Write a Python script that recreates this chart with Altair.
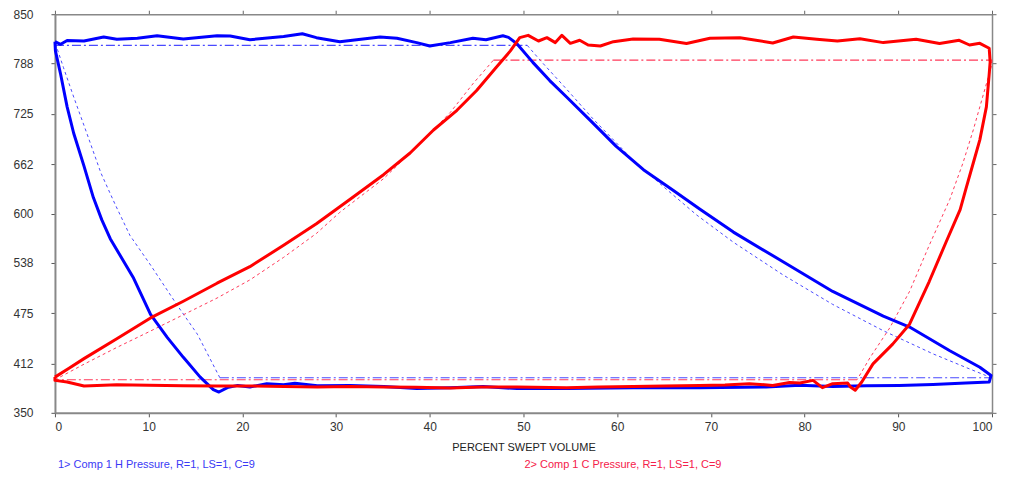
import altair as alt
import pandas as pd

# ---------------- data ----------------
X_TICKS = [0, 10, 20, 30, 40, 50, 60, 70, 80, 90, 100]
Y_TICKS = [350, 412, 475, 538, 600, 662, 725, 788, 850]

# Comp 1 H pressure, measured loop (blue, solid)
H_MEAS_X = [0, 0.6, 1.3, 3.1, 5.2, 6.6, 8.8, 10.9, 13.7, 17.3, 18.7, 20.8, 24.4, 26.4, 27.9,
            30.4, 32.2, 34.7, 36.5, 38.6, 40.0, 42.2, 44.6, 46.0, 47.8, 48.4, 49.3, 51.0, 52.8,
            54.6, 57.1, 59.9, 62.8, 66.0, 68.8, 72.4, 77.7, 83.0, 88.4, 91.2, 95.5, 98.7, 99.9,
            99.7, 97.2, 93.7, 90.1, 86.6, 83.0, 79.5, 75.9, 68.8, 61.7, 54.6, 49.3, 45.7, 42.2,
            38.6, 35.1, 31.5, 28.0, 25.6, 24.4, 22.6, 20.8, 19.5, 18.4, 17.5, 16.9, 15.5, 13.7,
            12.0, 10.2, 8.4, 5.9, 5.0, 4.1, 3.1, 2.0, 1.3, 0.6, 0.05, 0]
H_MEAS_Y = [815.6, 812.3, 817.0, 816.4, 821.4, 818.5, 819.8, 823.0, 818.9, 823.0, 822.6, 818.0,
            822.0, 825.5, 820.6, 815.6, 818.0, 821.4, 819.8, 814.4, 810.2, 814.4, 819.8, 818.0,
            823.0, 821.0, 813.0, 789.6, 766.8, 746.2, 717.2, 684.2, 655.0, 629.0, 605.6, 576.7,
            539.5, 502.3, 471.3, 457.6, 427.8, 407.2, 396.9, 388.6, 387.3, 385.6, 384.4, 384.0,
            383.0, 384.5, 382.3, 381.6, 381.4, 380.4, 380.4, 383.0, 381.6, 380.4, 383.0, 384.4,
            384.0, 387.2, 385.2, 386.6, 382.3, 384.4, 381.6, 376.1, 379.1, 394.8, 419.6, 444.4,
            473.4, 518.8, 568.4, 592.0, 620.0, 659.4, 700.7, 733.8, 775.0, 804.0, 815.6]

# Comp 1 H pressure, theoretical loop (blue): curved parts dashed, flat parts dash-dot
H_THEO_EXP_X = [50.4, 51.8, 54.6, 57.4, 61.7, 65.3, 68.5, 72.4, 77.7, 83.0, 88.4, 93.7, 97.2, 99.3, 100]
H_THEO_EXP_Y = [811, 792, 756, 719, 667, 630, 598, 564, 523, 486, 453, 424, 407, 397, 394]
H_THEO_CMP_X = [17.6, 15.2, 13.0, 10.2, 8.0, 6.4, 4.9, 3.4, 2.0, 0.9, 0.2, 0]
H_THEO_CMP_Y = [394, 448.6, 485.8, 535.4, 572.6, 612, 651, 700.7, 746.2, 783.4, 808, 811]
H_THEO_TOP_X = [0, 50.4]
H_THEO_TOP_Y = [811, 811]
H_THEO_BOT_X = [17.6, 100]
H_THEO_BOT_Y = [394, 394]

# Comp 1 C pressure, measured loop (red, solid)
C_MEAS_X = [0, 1.5, 3.1, 6.6, 10.2, 13.7, 17.3, 20.8, 24.4, 27.9, 31.5, 35.1, 37.9, 40.4, 42.9,
            45.0, 47.1, 48.6, 49.6, 50.5, 51.6, 52.5, 53.4, 54.1, 55.0, 56.0, 56.9, 58.2, 59.6,
            61.7, 64.5, 67.4, 69.9, 73.1, 76.6, 78.8, 81.3, 83.5, 85.9, 88.4, 91.9, 94.4, 96.5,
            97.6, 98.7, 99.7, 99.8, 99.7, 99.4, 98.7, 98.0, 97.2, 96.6, 95.1, 93.3, 91.2, 89.4,
            87.3, 86.1, 85.4, 84.9, 84.6, 83.0, 81.9, 80.9, 79.5, 78.4, 76.6, 74.1, 71.5, 68.8,
            65.0, 61.7, 58.0, 54.6, 49.3, 45.5, 42.2, 38.5, 35.1, 31.5, 28.0, 24.5, 20.8, 17.2,
            13.7, 10.0, 6.6, 3.1, 1.3, 0, 0]
C_MEAS_Y = [394.8, 406, 418, 443, 469, 490, 512.6, 533.3, 560.2, 587.1, 618, 649, 675.9, 704.8,
            729.5, 754.4, 783.4, 804, 820.6, 823.5, 816.4, 820.6, 814.4, 823.5, 813.5, 817.3,
            811.4, 810.2, 815.6, 818.9, 818.5, 813.2, 819.8, 820.6, 813.9, 821.4, 818.5, 816.5,
            819.3, 814.4, 818.5, 813.2, 817.3, 811.4, 813.5, 807.3, 790, 775, 733.8, 692.4,
            663.4, 630.4, 605, 564.3, 514.7, 461.2, 436.2, 411.4, 388.6, 378.3, 382.3, 387.3,
            386.6, 381.6, 390.7, 387.3, 388, 384.4, 386.6, 385, 384.4, 383.5, 383, 382.5, 381.6,
            382.3, 382.5, 381.1, 382, 382.3, 383, 382.3, 383, 383.7, 383.5, 384.1, 384.5, 385.3,
            383.6, 388.6, 390.7, 394.8]

# Comp 1 C pressure, theoretical loop (red)
C_THEO_CMP_X = [0, 3.1, 6.6, 10.2, 13.7, 17.3, 20.8, 24.4, 27.9, 30.4, 35.1, 39.7, 42.2, 44.6, 46.8]
C_THEO_CMP_Y = [391.5, 411, 432, 452.6, 473, 494, 516.7, 545, 575, 601.5, 644, 696.6, 727, 762.7, 792.5]
C_THEO_EXP_X = [100, 99.9, 99.0, 98.0, 96.9, 95.5, 93.3, 91.2, 89.1, 87.0, 85.6]
C_THEO_EXP_Y = [792.5, 783.4, 746.2, 704.8, 663.4, 617.9, 560.1, 502.3, 456.8, 419.6, 391.5]
C_THEO_TOP_X = [46.8, 100]
C_THEO_TOP_Y = [792.5, 792.5]
C_THEO_BOT_X = [85.6, 0]
C_THEO_BOT_Y = [391.5, 391.5]

LEGEND_H = "1> Comp 1 H Pressure, R=1, LS=1, C=9"
LEGEND_C = "2> Comp 1 C Pressure, R=1, LS=1, C=9"
X_TITLE = "PERCENT SWEPT VOLUME"

# ---------------- build tables ----------------
def seg(xs, ys, series, name):
    return pd.DataFrame({"x": xs, "y": ys, "series": series, "seg": name, "i": range(len(xs))})

meas = pd.concat([seg(H_MEAS_X, H_MEAS_Y, "H", "hm"), seg(C_MEAS_X, C_MEAS_Y, "C", "cm")])
theo_curve = pd.concat([seg(H_THEO_EXP_X, H_THEO_EXP_Y, "H", "he"),
                        seg(H_THEO_CMP_X, H_THEO_CMP_Y, "H", "hc"),
                        seg(C_THEO_CMP_X, C_THEO_CMP_Y, "C", "cc"),
                        seg(C_THEO_EXP_X, C_THEO_EXP_Y, "C", "ce")])
theo_flat = pd.concat([seg(H_THEO_TOP_X, H_THEO_TOP_Y, "H", "ht"),
                       seg(H_THEO_BOT_X, H_THEO_BOT_Y, "H", "hb"),
                       seg(C_THEO_TOP_X, C_THEO_TOP_Y, "C", "ct"),
                       seg(C_THEO_BOT_X, C_THEO_BOT_Y, "C", "cb")])

FONT = "Liberation Sans"
xs = alt.Scale(domain=[0, 100], nice=False, zero=False)
ys = alt.Scale(domain=[350, 850], nice=False, zero=False)

ax_bottom = alt.Axis(orient="bottom", values=X_TICKS, tickSize=4, labelPadding=5,
                     labelFontSize=12, labelFont=FONT, labelColor="#333333",
                     domainColor="#888888", domainWidth=2, tickColor="#555555",
                     grid=False, title=X_TITLE, titleFont=FONT, titleFontSize=11,
                     titleFontWeight="normal", titleColor="#222222",
                     titleBaseline="middle", titleY=35)
ax_left = alt.Axis(orient="left", values=Y_TICKS, tickSize=4, labelPadding=18,
                   labelFontSize=12, labelFont=FONT, labelColor="#333333",
                   domainColor="#888888", domainWidth=2, tickColor="#555555",
                   grid=False, title=None)
ax_top = alt.Axis(orient="top", values=X_TICKS, tickSize=4, labels=False,
                  domainColor="#888888", domainWidth=1.5, tickColor="#666666",
                  grid=False, title=None)
ax_right = alt.Axis(orient="right", values=Y_TICKS, tickSize=4, labels=False,
                    domainColor="#888888", domainWidth=1.5, tickColor="#666666",
                    grid=False, title=None)

col_theo = alt.Scale(domain=["H", "C"], range=["#4a4aff", "#ff3a5a"])

curves = alt.Chart(theo_curve).mark_line(strokeWidth=1, strokeDash=[3, 3]).encode(
    x=alt.X("x:Q", scale=xs, axis=ax_bottom),
    y=alt.Y("y:Q", scale=ys, axis=ax_left),
    color=alt.Color("series:N", scale=col_theo, legend=None),
    detail="seg:N", order="i:Q")

flats = alt.Chart(theo_flat).mark_line(strokeWidth=1.2, strokeDash=[9, 3, 2, 3]).encode(
    x=alt.X("x:Q", scale=xs, axis=ax_top),
    y=alt.Y("y:Q", scale=ys, axis=ax_right),
    color=alt.Color("series:N", scale=col_theo, legend=None),
    detail="seg:N", order="i:Q")

blue = alt.Chart(meas[meas.series == "H"]).mark_line(
    strokeWidth=3, strokeJoin="round", color="#0000ff").encode(
    x=alt.X("x:Q", scale=xs, axis=None),
    y=alt.Y("y:Q", scale=ys, axis=None),
    order="i:Q")

red = alt.Chart(meas[meas.series == "C"]).mark_line(
    strokeWidth=3, strokeJoin="round", color="#ff0000").encode(
    x=alt.X("x:Q", scale=xs, axis=None),
    y=alt.Y("y:Q", scale=ys, axis=None),
    order="i:Q")

leg_h = alt.Chart(pd.DataFrame({"t": [LEGEND_H]})).mark_text(
    align="left", baseline="middle", font=FONT, fontSize=11, color="#3a3af5").encode(
    text="t:N", x=alt.value(3), y=alt.value(451))
leg_c = alt.Chart(pd.DataFrame({"t": [LEGEND_C]})).mark_text(
    align="left", baseline="middle", font=FONT, fontSize=11, color="#f5204a").encode(
    text="t:N", x=alt.value(470), y=alt.value(451))

chart = alt.layer(curves, flats, blue, red, leg_h, leg_c).resolve_axis(
    x="independent", y="independent"
).resolve_scale(color="independent").properties(
    width=938, height=399,
    autosize=alt.AutoSizeParams(type="none"),
    padding={"left": 47, "top": 6, "right": 10, "bottom": 59},
).configure_view(stroke=None)

chart.save("out.html", embed_options={"renderer": "svg", "actions": False})
